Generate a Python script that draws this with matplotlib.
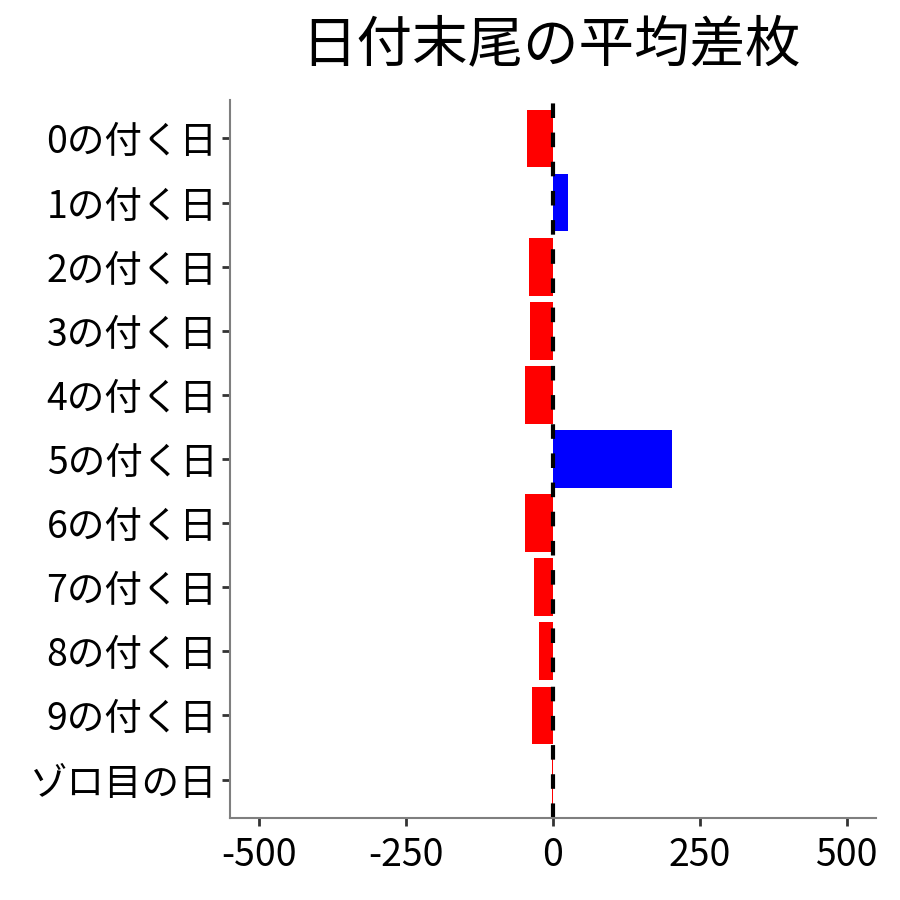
import numpy as np
import matplotlib
matplotlib.use("Agg")
import matplotlib.pyplot as plt

plt.rcParams['font.family'] = ['Noto Sans CJK JP', 'DejaVu Sans']

# data
labels = ["0の付く日", "1の付く日", "2の付く日", "3の付く日", "4の付く日",
          "5の付く日", "6の付く日", "7の付く日", "8の付く日", "9の付く日", "ゾロ目の日"]
values = [-44, 25, -41, -39, -48, 202, -48, -32, -24, -36, -2]
xticks = [-500, -250, 0, 250, 500]

colors = ["blue" if v > 0 else "red" for v in values]
ypos = np.arange(len(labels))

fig = plt.figure(figsize=(9, 9), dpi=100)
ax = fig.add_axes([230 / 900, 82 / 900, 646 / 900, 718 / 900])

ax.barh(ypos, values, height=0.9, color=colors)
ax.axvline(0, color="black", linestyle=(0, (3.5, 3.5)), linewidth=3)

ax.set_yticks(ypos)
ax.set_yticklabels(labels, fontsize=27)
ax.set_xticks(xticks)
ax.set_xticklabels([str(t) for t in xticks], fontsize=27)
ax.set_xlim(-550, 550)
ax.set_ylim(len(labels) - 0.4, -0.6)

for s in ["top", "right"]:
    ax.spines[s].set_visible(False)
for s in ["left", "bottom"]:
    ax.spines[s].set_color("#7f7f7f")
    ax.spines[s].set_linewidth(1.5)
ax.tick_params(length=6, width=2, color="#333333", pad=3)
ax.tick_params(axis="x", pad=7)

fig.text(551 / 900, 1 - 45 / 900, "日付末尾の平均差枚", fontsize=40,
         ha="center", va="center")

fig.savefig("out.png", dpi=100)
